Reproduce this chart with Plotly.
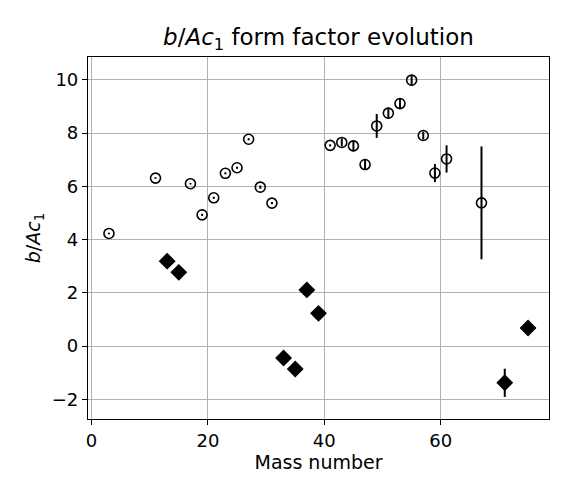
import plotly.graph_objects as go

# Open circles series
circ_A = [3, 11, 17, 19, 21, 23, 25, 27, 29, 31, 41, 43, 45, 47, 49, 51, 53, 55, 57, 59, 61, 67]
circ_y = [4.23, 6.31, 6.10, 4.93, 5.57, 6.49, 6.70, 7.77, 5.97, 5.37, 7.54, 7.65, 7.52, 6.82, 8.27, 8.75, 9.11, 9.99, 7.91, 6.50, 7.03, 5.38]
circ_err = [0.03, 0.03, 0.03, 0.04, 0.04, 0.04, 0.04, 0.04, 0.06, 0.04, 0.04, 0.15, 0.2, 0.2, 0.45, 0.2, 0.2, 0.2, 0.15, 0.34, 0.51, 2.12]

# Filled diamonds series
dia_A = [13, 15, 33, 35, 37, 39, 71, 75]
dia_y = [3.19, 2.77, -0.45, -0.86, 2.11, 1.23, -1.38, 0.68]
dia_err = [0.05, 0.05, 0.05, 0.05, 0.05, 0.05, 0.53, 0.05]

x_ticks = [0, 20, 40, 60]
y_ticks = [-2, 0, 2, 4, 6, 8, 10]

fig = go.Figure()
fig.add_trace(go.Scatter(
    x=circ_A, y=circ_y, mode="markers",
    marker=dict(symbol="circle-open", size=10, color="black", line=dict(width=1.6, color="black")),
    error_y=dict(type="data", array=circ_err, visible=True, color="black", thickness=2, width=0),
    showlegend=False,
))
fig.add_trace(go.Scatter(
    x=dia_A, y=dia_y, mode="markers",
    marker=dict(symbol="diamond", size=13, color="black", line=dict(width=0)),
    error_y=dict(type="data", array=dia_err, visible=True, color="black", thickness=2, width=0),
    showlegend=False,
))

axis_common = dict(
    showline=True, linecolor="black", linewidth=1.2, mirror=True,
    ticks="outside", ticklen=5, tickwidth=1, tickcolor="black",
    showgrid=True, gridcolor="#b0b0b0", gridwidth=1, zeroline=False,
    tickfont=dict(size=18, color="black"),
)
fig.update_xaxes(range=[-0.6, 78.6], tickvals=x_ticks,
                 title=dict(text="Mass number", font=dict(size=19, color="black"), standoff=4),
                 **axis_common)
fig.update_yaxes(range=[-2.74, 10.86], tickvals=y_ticks,
                 title=dict(text="<i>b</i>/<i>Ac</i><sub>1</sub>", font=dict(size=19, color="black"), standoff=6),
                 **axis_common)
fig.update_layout(
    width=554, height=472,
    margin=dict(l=80, r=13, t=49, b=58),
    paper_bgcolor="white", plot_bgcolor="white",
    font=dict(family="DejaVu Sans", color="black"),
    title=dict(text="<i>b</i>/<i>Ac</i><sub>1</sub> form factor evolution",
               x=0.5, xref="paper", xanchor="center", y=1, yref="container", yanchor="top",
               pad=dict(t=21), font=dict(size=23, color="black")),
)
fig.write_html("out.html")
